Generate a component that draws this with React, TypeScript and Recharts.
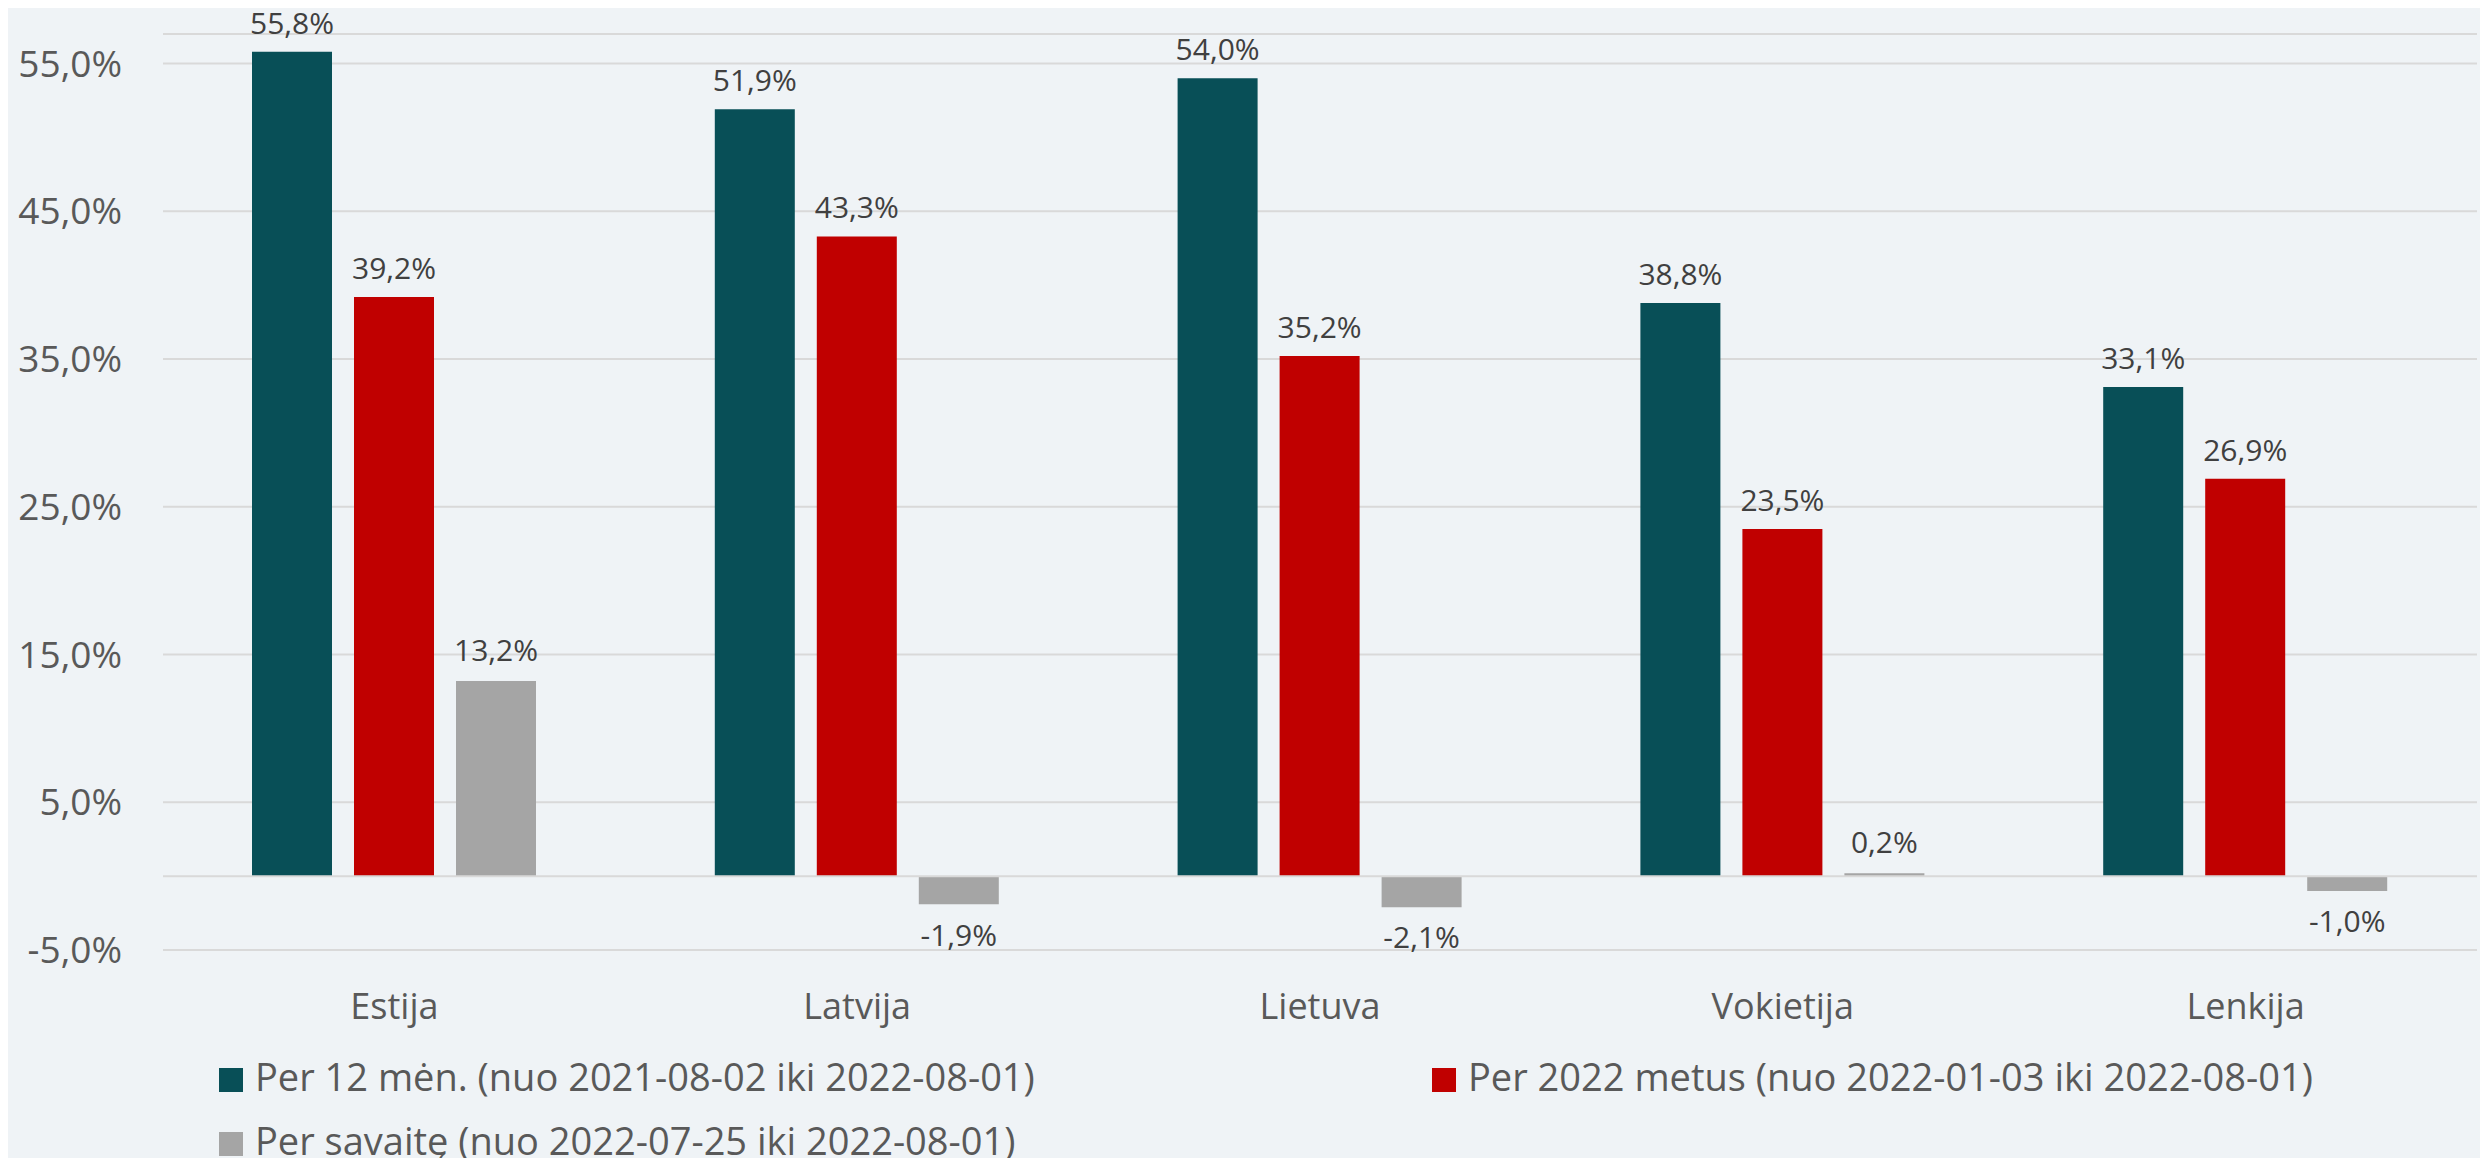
import { BarChart, Bar, XAxis, YAxis, CartesianGrid, Legend, LabelList, ReferenceLine } from "recharts";

const categories = ["Estija", "Latvija", "Lietuva", "Vokietija", "Lenkija"];
const per12Months = [55.8, 51.9, 54.0, 38.8, 33.1];
const perYear2022 = [39.2, 43.3, 35.2, 23.5, 26.9];
const perWeek = [13.2, -1.9, -2.1, 0.2, -1.0];
const yTicks = [-5, 5, 15, 25, 35, 45, 55];
const seriesNames = [
    "Per 12 mėn. (nuo 2021-08-02 iki 2022-08-01)",
    "Per 2022 metus (nuo 2022-01-03 iki 2022-08-01)",
    "Per savaitę (nuo 2022-07-25 iki 2022-08-01)",
];

const data = categories.map((name, i) => ({
    name,
    m12: per12Months[i],
    y2022: perYear2022[i],
    week: perWeek[i],
}));

const FONT = '"Open Sans", sans-serif';
const TEAL = "#084F57";
const RED = "#C00000";
const GRAY = "#A5A5A5";
const GRID = "#D9D9D9";

// legend item spots (relative to legend wrapper)
const legendSpots = [
    { left: 219, top: 28 },
    { left: 1432, top: 28 },
    { left: 219, top: 92 },
];

const pct = (v: number) => `${v.toFixed(1).replace(".", ",")}%`;

function LegendContent({ payload }: any) {
    return (
        <div style={{ position: "relative", width: 2488, height: 126 }}>
            {(payload || []).map((entry: any, i: number) => (
                <div
                    key={entry.value}
                    style={{
                        position: "absolute",
                        left: legendSpots[i].left,
                        top: legendSpots[i].top,
                        height: 24,
                        display: "flex",
                        alignItems: "center",
                        whiteSpace: "nowrap",
                    }}
                >
                    <div style={{ width: 24, height: 24, background: entry.color, marginRight: 12 }} />
                    <span
                        style={{
                            fontFamily: FONT,
                            fontSize: 38,
                            lineHeight: "24px",
                            position: "relative",
                            top: -4,
                            color: "#595959",
                        }}
                    >
                        {entry.value}
                    </span>
                </div>
            ))}
        </div>
    );
}

export default function App() {
    const labelStyle = { fontFamily: FONT, fontSize: 30, fill: "#404040" };
    return (
        <div style={{ margin: -8, width: 2488, height: 1166, background: "#EFF3F6", overflow: "hidden" }}>
            <BarChart
                width={2488}
                height={1166}
                data={data}
                margin={{ top: 34, right: 11, bottom: 0, left: 0 }}
                barSize={80}
                barGap={22}
            >
                <CartesianGrid vertical={false} stroke={GRID} strokeWidth={2} />
                <ReferenceLine y={0} stroke={GRID} strokeWidth={2} />
                <XAxis
                    dataKey="name"
                    axisLine={false}
                    tickLine={false}
                    tickSize={0}
                    tickMargin={43}
                    height={216}
                    tick={{ fontFamily: FONT, fontSize: 36, fill: "#595959" }}
                />
                <YAxis
                    type="number"
                    domain={[-5, 57]}
                    ticks={yTicks}
                    interval={0}
                    width={163}
                    axisLine={false}
                    tickLine={false}
                    tickSize={0}
                    tickMargin={41}
                    tickFormatter={pct}
                    tick={{ fontFamily: FONT, fontSize: 37, fill: "#595959" }}
                />
                <Legend
                    layout="horizontal"
                    verticalAlign="middle"
                    align="center"
                    wrapperStyle={{ left: 0, top: 1040, width: 2488, height: 126 }}
                    content={<LegendContent />}
                />
                <Bar dataKey="m12" name={seriesNames[0]} fill={TEAL} isAnimationActive={false}>
                    <LabelList dataKey="m12" position="top" offset={18} formatter={pct} style={labelStyle} />
                </Bar>
                <Bar dataKey="y2022" name={seriesNames[1]} fill={RED} isAnimationActive={false}>
                    <LabelList dataKey="y2022" position="top" offset={18} formatter={pct} style={labelStyle} />
                </Bar>
                <Bar dataKey="week" name={seriesNames[2]} fill={GRAY} isAnimationActive={false}>
                    <LabelList dataKey="week" position="top" offset={20} formatter={pct} style={labelStyle} />
                </Bar>
            </BarChart>
        </div>
    );
}
